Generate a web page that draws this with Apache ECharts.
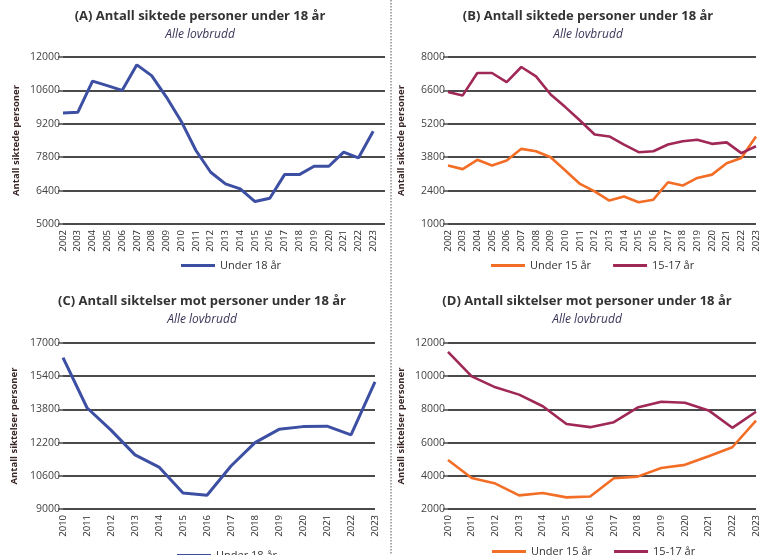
<!DOCTYPE html>
<html>
<head>
<meta charset="utf-8">
<script src="https://cdn.jsdelivr.net/npm/echarts@6/dist/echarts.min.js"></script>
<style>
html,body{margin:0;padding:0;background:#fff;}
#c{width:761px;height:555px;}
</style>
</head>
<body>
<div id="c"></div>
<script>
// ---- data ----
const yearsAB = [2002,2003,2004,2005,2006,2007,2008,2009,2010,2011,2012,2013,2014,2015,2016,2017,2018,2019,2020,2021,2022,2023];
const yearsCD = [2010,2011,2012,2013,2014,2015,2016,2017,2018,2019,2020,2021,2022,2023];
const under18A = [9650,9680,10990,10800,10600,11670,11220,10320,9310,8080,7170,6680,6470,5940,6080,7070,7070,7420,7420,8010,7770,8890];
const under15B = [3450,3300,3690,3450,3660,4150,4050,3800,3240,2680,2370,1980,2150,1910,2020,2750,2610,2930,3070,3550,3770,4670];
const age1517B = [6530,6390,7330,7330,6950,7580,7190,6430,5900,5340,4750,4670,4330,4010,4050,4330,4470,4530,4360,4420,3970,4260];
const under18C = [16300,13880,12800,11610,11020,9770,9660,11070,12200,12840,12970,12990,12570,15130];
const under15D = [4950,3870,3530,2820,2960,2700,2750,3850,3950,4470,4660,5180,5720,7330];
const age1517D = [11460,9990,9330,8890,8190,7120,6930,7230,8110,8460,8400,7940,6890,7860];
const titles = ['(A) Antall siktede personer under 18 år','(B) Antall siktede personer under 18 år','(C) Antall siktelser mot personer under 18 år','(D) Antall siktelser mot personer under 18 år'];
const subtitle = 'Alle lovbrudd';
const yNames = ['Antall siktede personer','Antall siktede personer','Antall siktelser personer','Antall siktelser personer'];
const nameU18 = 'Under 18 år', nameU15 = 'Under 15 år', name1517 = '15-17 år';

// ---- style ----
const FONT = '"Open Sans", "DejaVu Sans", sans-serif';
const BLUE = '#3d4fa3', ORANGE = '#f26d25', MAROON = '#9f2857';
const GRID = '#4a4a4a';

const pair = (xs, ys) => xs.map((x, i) => [x, ys[i]]);

const grids = [
  {left: 63, top: 57, width: 322, height: 167},
  {left: 448, top: 57, width: 312, height: 167},
  {left: 63, top: 343, width: 312, height: 166},
  {left: 448, top: 343, width: 312, height: 166}
];
const xRanges = [[2002, 2023.8],[2002, 2023],[2010, 2023],[2010, 2023]];
const yRanges = [[5000,12000,1400],[1000,8000,1400],[9000,17000,1600],[2000,12000,2000]];
const nameGaps = [42, 42, 44, 42];

const xAxis = xRanges.map((r, i) => ({
  type: 'value', gridIndex: i, min: r[0], max: r[1], interval: 1,
  axisLine: {show: false}, axisTick: {show: false}, splitLine: {show: false},
  axisLabel: {
    rotate: 90, fontSize: 9.5, color: '#2a2a2a', fontFamily: FONT, margin: 6,
    formatter: v => Number.isInteger(v) ? String(v) : ''
  }
}));
const yAxis = yRanges.map((r, i) => ({
  type: 'value', gridIndex: i, min: r[0], max: r[1], interval: r[2],
  name: yNames[i], nameLocation: 'middle', nameRotate: 90, nameGap: nameGaps[i],
  nameTextStyle: {fontSize: 9.5, fontWeight: 'bold', color: '#3a2626', fontFamily: FONT},
  axisLine: {show: false},
  axisTick: {show: true, length: 5, lineStyle: {color: GRID, width: 1.5}},
  splitLine: {lineStyle: {color: GRID, width: 1.8}},
  axisLabel: {fontSize: 10.5, color: '#444', fontFamily: FONT, margin: 3, formatter: v => String(v)}
}));

const lineSeries = (name, data, xi, color, w) => ({
  type: 'line', name, data, xAxisIndex: xi, yAxisIndex: xi,
  showSymbol: false, symbol: 'none', lineStyle: {color, width: w}, itemStyle: {color},
  animation: false, z: 3
});

const series = [
  lineSeries(nameU18, pair(yearsAB, under18A), 0, BLUE, 3),
  lineSeries(nameU15, pair(yearsAB, under15B), 1, ORANGE, 2.6),
  lineSeries(name1517, pair(yearsAB, age1517B), 1, MAROON, 2.6),
  lineSeries(nameU18, pair(yearsCD, under18C), 2, BLUE, 3),
  lineSeries(nameU15, pair(yearsCD, under15D), 3, ORANGE, 2.6),
  lineSeries(name1517, pair(yearsCD, age1517D), 3, MAROON, 2.6)
];

const titleCenters = [[200, 10],[588, 10],[202, 295],[587, 295]];
const title = titles.map((t, i) => ({
  text: t, subtext: subtitle, left: titleCenters[i][0], top: titleCenters[i][1],
  textAlign: 'center', padding: 0, itemGap: 6,
  textStyle: {fontSize: 13, fontWeight: 'bold', color: '#333', fontFamily: FONT},
  subtextStyle: {fontSize: 12, fontStyle: 'italic', color: '#3a3458', fontFamily: FONT}
}));

const legendBase = {
  icon: 'rect', itemWidth: 34, itemHeight: 3, itemGap: 22,
  textStyle: {fontSize: 11, color: '#333', fontFamily: FONT},
  selectedMode: false
};
const legend = [
  Object.assign({}, legendBase, {data: [nameU18], left: 176, top: 255}),
  Object.assign({}, legendBase, {data: [nameU15, name1517], left: 486, top: 255}),
  Object.assign({}, legendBase, {data: [nameU18], left: 172, top: 545}),
  Object.assign({}, legendBase, {data: [nameU15, name1517], left: 487, top: 541})
];

const chart = echarts.init(document.getElementById('c'), null, {renderer: 'canvas'});
chart.setOption({
  animation: false,
  backgroundColor: '#fff',
  title, legend, grid: grids, xAxis, yAxis, series,
  graphic: [{
    type: 'line', shape: {x1: 391, y1: 0, x2: 391, y2: 555},
    style: {stroke: '#555', lineWidth: 1, lineDash: [1.5, 1.5]}, silent: true
  }]
});
</script>
</body>
</html>
